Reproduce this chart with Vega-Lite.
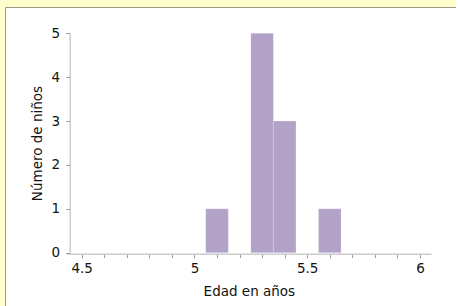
{
  "$schema": "https://vega.github.io/schema/vega-lite/v6.json",
  "width": 451,
  "height": 300,
  "autosize": {"type": "none"},
  "padding": {"left": 5, "top": 7, "right": 0, "bottom": 0},
  "background": "#ffffcc",
  "view": {"fill": "#ffffff", "stroke": "#9a9a8a", "strokeWidth": 1},
  "data": {
    "values": [
      {"bin_start": 5.05, "bin_end": 5.15, "count": 1},
      {"bin_start": 5.25, "bin_end": 5.35, "count": 5},
      {"bin_start": 5.35, "bin_end": 5.45, "count": 3},
      {"bin_start": 5.55, "bin_end": 5.65, "count": 1}
    ]
  },
  "mark": {"type": "rect", "color": "#b2a2c8", "stroke": "#ffffff", "strokeWidth": 0.6, "strokeOpacity": 0.3},
  "encoding": {
    "x": {
      "field": "bin_start",
      "type": "quantitative",
      "scale": {"domain": [4.4335, 6.0488], "range": [61.7, 426], "nice": false, "zero": false},
      "axis": {
        "title": "Edad en años",
        "values": [4.5, 4.6, 4.7, 4.8, 4.9, 5.0, 5.1, 5.2, 5.3, 5.4, 5.5, 5.6, 5.7, 5.8, 5.9, 6.0],
        "labelExpr": "abs(datum.value*2 - round(datum.value*2)) < 0.001 ? format(datum.value, '~g') : ''",
        "labelOverlap": false,
        "offset": -53.3,
        "grid": false,
        "domainColor": "#cccccc",
        "domainWidth": 1.5,
        "tickColor": "#999999",
        "tickSize": 4,
        "labelPadding": 4,
        "titlePadding": 9
      }
    },
    "x2": {"field": "bin_end"},
    "y": {
      "field": "count",
      "type": "quantitative",
      "scale": {"domain": [0, 5], "range": [245.7, 26.3], "nice": false},
      "axis": {
        "title": "Número de niños",
        "values": [0, 1, 2, 3, 4, 5],
        "offset": -64.7,
        "grid": false,
        "domainColor": "#cccccc",
        "domainWidth": 1.5,
        "tickColor": "#999999",
        "tickSize": 4,
        "labelPadding": 6,
        "titlePadding": 7
      }
    },
    "y2": {"datum": 0}
  },
  "config": {
    "font": "DejaVu Sans",
    "axis": {
      "labelFont": "DejaVu Sans",
      "titleFont": "DejaVu Sans",
      "labelFontSize": 13.5,
      "titleFontSize": 13.5,
      "titleFontWeight": "normal",
      "labelColor": "#111111",
      "titleColor": "#111111"
    }
  }
}
